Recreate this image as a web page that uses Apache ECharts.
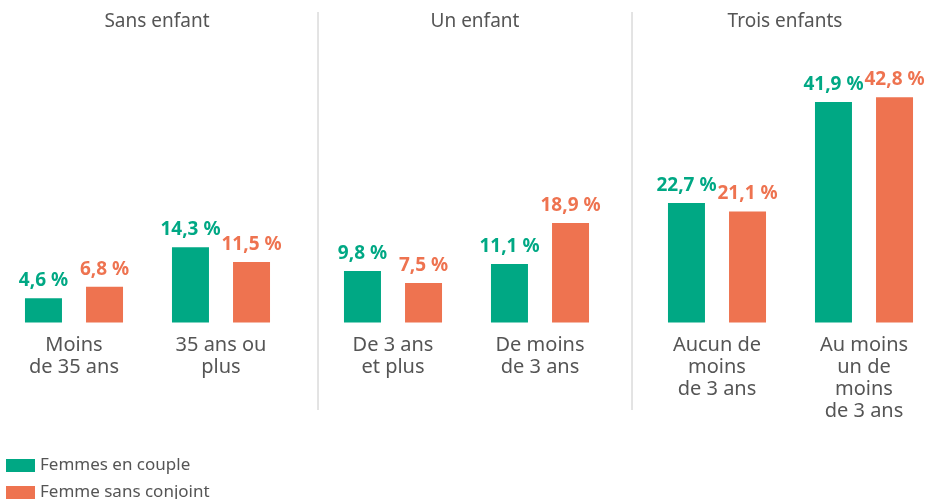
<!DOCTYPE html>
<html>
<head>
<meta charset="utf-8">
<script src="https://cdn.jsdelivr.net/npm/echarts@6/dist/echarts.min.js"></script>
<style>
  html, body { margin: 0; padding: 0; background: #fff; }
  #container { width: 926px; height: 499px; }
</style>
</head>
<body>
<div id="container"></div>
<script>
var panelTitles = ["Sans enfant", "Un enfant", "Trois enfants"];
var categories = [
  ["Moins\nde 35 ans", "35 ans ou\nplus"],
  ["De 3 ans\net plus", "De moins\nde 3 ans"],
  ["Aucun de\nmoins\nde 3 ans", "Au moins\nun de\nmoins\nde 3 ans"]
];
var enCouple = [[4.6, 14.3], [9.8, 11.1], [22.7, 41.9]];
var sansConjoint = [[6.8, 11.5], [7.5, 18.9], [21.1, 42.8]];
var seriesNames = ["Femmes en couple", "Femme sans conjoint"];

var dom = document.getElementById("container");
var myChart = echarts.init(dom);
var font = "Noto Sans";
var green = "#00a884";
var orange = "#ee7350";
// each panel is 294px wide, third one runs a bit past the right edge
var gridLefts = [0.5, 319.5, 643.5];
var titleX = [157, 475, 785];

var grids = [], xAxes = [], yAxes = [], series = [], graphics = [];

function fmt(p) {
  return p.value.toFixed(1).replace(".", ",") + " %";
}

panelTitles.forEach(function (t, i) {
  grids.push({
    left: gridLefts[i],
    width: 294,
    top: 54,
    bottom: 176.5,
    outerBoundsMode: "none",
    containLabel: false
  });
  xAxes.push({
    type: "category",
    gridIndex: i,
    data: categories[i],
    axisLine: { show: false },
    axisTick: { show: false },
    axisLabel: {
      color: "#555",
      fontFamily: font,
      fontSize: 20,
      lineHeight: 22,
      margin: 12,
      interval: 0
    }
  });
  yAxes.push({
    type: "value",
    gridIndex: i,
    min: 0,
    max: 51,
    show: false,
    splitLine: { show: false }
  });
  [enCouple, sansConjoint].forEach(function (arr, s) {
    var c = s === 0 ? green : orange;
    series.push({
      name: seriesNames[s],
      type: "bar",
      xAxisIndex: i,
      yAxisIndex: i,
      barWidth: 37,
      barGap: "65%",
      itemStyle: { color: c },
      label: {
        show: true,
        position: "top",
        distance: 8,
        color: c,
        fontFamily: font,
        fontWeight: "bold",
        fontSize: 19,
        formatter: fmt
      },
      data: arr[i]
    });
  });
  graphics.push({
    type: "text",
    x: titleX[i],
    y: 22,
    style: {
      text: t,
      textAlign: "center",
      textVerticalAlign: "middle",
      fill: "#555",
      font: "19px '" + font + "'"
    }
  });
});

[318, 632].forEach(function (x) {
  graphics.push({
    type: "line",
    shape: { x1: x, y1: 12, x2: x, y2: 410 },
    style: { stroke: "#c8c8c8", lineWidth: 1 }
  });
});

var option = {
  animation: false,
  grid: grids,
  xAxis: xAxes,
  yAxis: yAxes,
  series: series,
  graphic: graphics,
  legend: {
    orient: "vertical",
    left: 6,
    top: 457,
    height: 80,
    padding: 0,
    itemWidth: 29,
    itemHeight: 13,
    itemGap: 10,
    icon: "rect",
    data: seriesNames,
    textStyle: { color: "#555", fontFamily: font, fontSize: 17, lineHeight: 13 }
  }
};

myChart.setOption(option);
</script>
</body>
</html>
